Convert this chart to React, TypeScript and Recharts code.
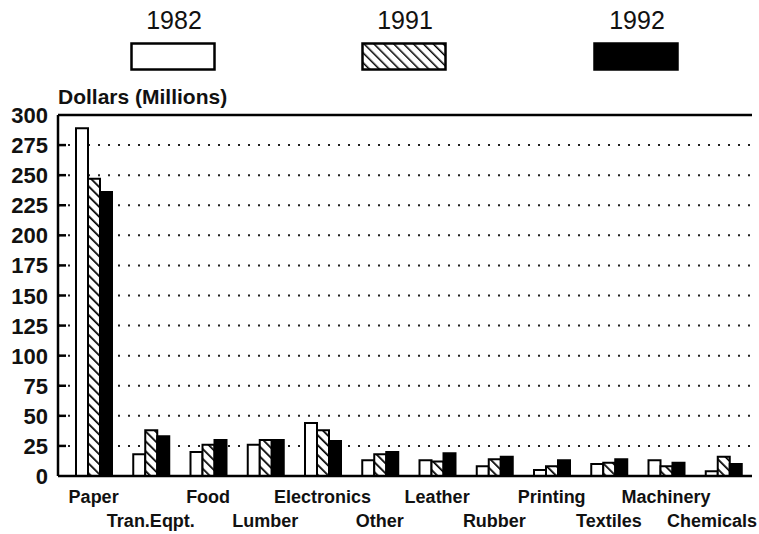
import { BarChart, Bar, XAxis, YAxis, CartesianGrid, ReferenceLine } from 'recharts';

const categories = ['Paper', 'Tran.Eqpt.', 'Food', 'Lumber', 'Electronics', 'Other', 'Leather', 'Rubber', 'Printing', 'Textiles', 'Machinery', 'Chemicals'];
const values1982 = [289, 18, 20, 26, 44, 13, 13, 8, 5, 10, 13, 4];
const values1991 = [247, 38, 26, 30, 38, 18, 12, 14, 8, 11, 8, 16];
const values1992 = [236, 33, 30, 30, 29, 20, 19, 16, 13, 14, 11, 10];
const yTicks = [0, 25, 50, 75, 100, 125, 150, 175, 200, 225, 250, 275, 300];
const years = ['1982', '1991', '1992'];

const data = categories.map((name, i) => ({
  name,
  y1982: values1982[i],
  y1991: values1991[i],
  y1992: values1992[i],
}));

const FONT = '"Liberation Sans", Arial, sans-serif';

function YTick(props: any) {
  const { x, y, payload } = props;
  const axisX = x + 10;
  return (
    <g>
      {payload.value !== 0 && payload.value !== 300 && (
        <line x1={axisX} x2={axisX + 8} y1={y} y2={y} stroke="#000" strokeWidth={2.5} />
      )}
      <text x={x} y={y + 8} textAnchor="end" fontFamily={FONT} fontWeight="bold" fontSize={22} fill="#111">
        {payload.value}
      </text>
    </g>
  );
}

function XTick(props: any) {
  const { x, y, payload, index } = props;
  const dy = index % 2 === 0 ? 27 : 51;
  // keep the last label inside the picture, like the original does
  const last = index === categories.length - 1;
  return (
    <text
      x={last ? 757 : x}
      y={y + dy}
      textAnchor={last ? 'end' : 'middle'}
      fontFamily={FONT}
      fontWeight="bold"
      fontSize={18}
      fill="#111"
    >
      {payload.value}
    </text>
  );
}

function LegendBox({ kind }: { kind: number }) {
  const id = 'lg-hatch-' + kind;
  return (
    <svg width={86} height={29} style={{ display: 'block' }}>
      <defs>
        <pattern id={id} width={7} height={7} patternUnits="userSpaceOnUse" patternTransform="rotate(-45)">
          <rect width={7} height={7} fill="#fff" />
          <line x1={0} y1={0} x2={0} y2={7} stroke="#000" strokeWidth={3} />
        </pattern>
      </defs>
      <rect
        x={1.5}
        y={1.5}
        width={83}
        height={26}
        fill={kind === 0 ? '#fff' : kind === 1 ? `url(#${id})` : '#000'}
        stroke="#000"
        strokeWidth={2.5}
      />
    </svg>
  );
}

const legendX = [131, 362, 594];

export default function App() {
  return (
    <div style={{ position: 'absolute', left: 0, top: 0, width: 759, height: 534, background: '#fff' }}>
      {years.map((yr, i) => (
        <div key={yr}>
          <div
            style={{
              position: 'absolute',
              left: legendX[i] - 20,
              width: 126,
              top: 6,
              textAlign: 'center',
              fontFamily: FONT,
              fontSize: 25,
              color: '#111',
            }}
          >
            {yr}
          </div>
          <div style={{ position: 'absolute', left: legendX[i] - 1, top: 42 }}>
            <LegendBox kind={i} />
          </div>
        </div>
      ))}
      <div
        style={{
          position: 'absolute',
          left: 58,
          top: 85,
          fontFamily: FONT,
          fontWeight: 'bold',
          fontSize: 21,
          color: '#111',
        }}
      >
        Dollars (Millions)
      </div>
      <BarChart
        width={759}
        height={534}
        data={data}
        margin={{ top: 115, right: 7, left: 0, bottom: 0 }}
        barGap={0}
        barCategoryGap={10}
      >
        <defs>
          <pattern id="hatch" width={7} height={7} patternUnits="userSpaceOnUse" patternTransform="rotate(-45)">
            <rect width={7} height={7} fill="#fff" />
            <line x1={0} y1={0} x2={0} y2={7} stroke="#000" strokeWidth={3.5} />
          </pattern>
        </defs>
        <CartesianGrid vertical={false} stroke="#222" strokeWidth={2} strokeDasharray="2 8" />
        <XAxis
          dataKey="name"
          height={58}
          axisLine={{ stroke: '#000', strokeWidth: 2.5 }}
          tickLine={false}
          tickSize={0}
          tickMargin={0}
          interval={0}
          padding={{ left: 7, right: 0 }}
          tick={<XTick />}
        />
        <YAxis
          width={58}
          domain={[0, 300]}
          ticks={yTicks}
          interval={0}
          axisLine={{ stroke: '#000', strokeWidth: 2.5 }}
          tickLine={false}
          tickSize={0}
          tickMargin={10}
          tick={<YTick />}
        />
        <YAxis
          yAxisId="right"
          orientation="right"
          width={0}
          domain={[0, 300]}
          tick={false}
          tickLine={false}
          axisLine={{ stroke: '#000', strokeWidth: 2.5 }}
        />
        <ReferenceLine y={300} stroke="#000" strokeWidth={2.5} />
        <Bar dataKey="y1982" fill="#fff" stroke="#000" strokeWidth={2} barSize={12} isAnimationActive={false} />
        <Bar dataKey="y1991" fill="url(#hatch)" stroke="#000" strokeWidth={2} barSize={12} isAnimationActive={false} />
        <Bar dataKey="y1992" fill="#000" stroke="#000" strokeWidth={2} barSize={12} isAnimationActive={false} />
      </BarChart>
    </div>
  );
}
